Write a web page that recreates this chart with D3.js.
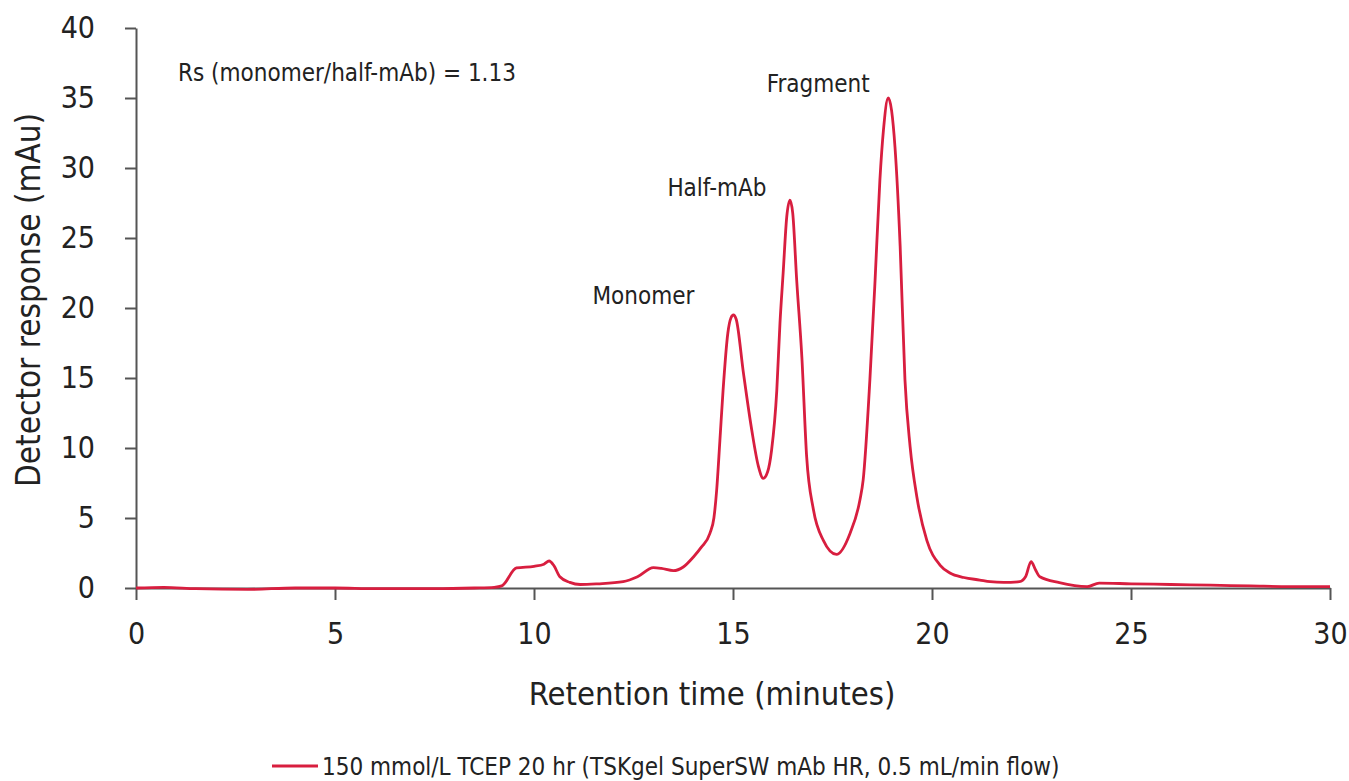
<!DOCTYPE html>
<html lang="en">
<head>
  <meta charset="UTF-8">
  <title>Chromatogram</title>
  <script src="https://d3js.org/d3.v7.min.js"></script>
  <style>
    body { margin: 0; background: white; }
    text { font-family: "Liberation Sans Narrow", "DejaVu Sans Condensed", "Roboto Condensed", sans-serif; fill: #222; }
  </style>
</head>
<body>
<svg id="chart" width="1349" height="781"></svg>

<script>
  // Retention time (minutes) and detector response (mAu)
  const times = [0, 0.7, 1.5, 2.8, 4, 5, 6, 7.5, 8.5, 9.0, 9.19, 9.56, 10.0, 10.25, 10.38, 10.5, 10.65, 10.9,
    11.16, 11.6, 12.24, 12.6, 13.0, 13.2, 13.5, 13.75, 14.0, 14.2, 14.42, 14.52, 14.59, 14.67, 14.75, 14.87,
    14.95, 15.01, 15.08, 15.26, 15.47, 15.64, 15.76, 15.87, 15.97, 16.1, 16.18, 16.26, 16.35, 16.43, 16.5,
    16.6, 16.73, 16.85, 17.02, 17.27, 17.6, 17.94, 18.19, 18.27, 18.44, 18.57, 18.69, 18.78, 18.9, 19.07,
    19.2, 19.32, 19.45, 19.62, 19.87, 20.2, 20.45, 20.8, 21.2, 21.46, 21.8, 22.2, 22.35, 22.49, 22.6, 22.71,
    23.2, 23.9, 24.2, 25, 26, 27, 28, 29, 30];
  const response = [0, 0.05, -0.05, -0.1, 0, 0, -0.05, -0.05, 0, 0.05, 0.15, 1.43, 1.55, 1.7, 1.93, 1.6, 0.8, 0.4,
    0.25, 0.3, 0.45, 0.8, 1.45, 1.4, 1.24, 1.5, 2.2, 2.9, 3.9, 5.0, 7.0, 10.5, 14.1, 18.2,
    19.3, 19.5, 19.2, 15.4, 11.3, 8.67, 7.83, 8.3, 9.86, 14.1, 18.9, 22.5, 26.5, 27.7, 26.8,
    22, 16.5, 9.4, 5.6, 3.4, 2.4, 3.9, 6.3, 7.7, 14.9, 22, 29.1, 32.7, 35.0, 31.5,
    24.4, 14.9, 10.1, 6.5, 3.4, 1.64, 1.07, 0.75, 0.57, 0.45, 0.4, 0.45, 0.8, 1.88, 1.3, 0.8,
    0.38, 0.1, 0.35, 0.3, 0.25, 0.2, 0.15, 0.1, 0.1];

  const xTicks = [0, 5, 10, 15, 20, 25, 30];
  const yTicks = [0, 5, 10, 15, 20, 25, 30, 35, 40];

  const peakNames = ["Monomer", "Half-mAb", "Fragment"];
  const peakTimes = [15.01, 16.43, 18.9];
  const peakHeights = [19.5, 27.7, 35.0];

  const note = "Rs (monomer/half-mAb) = 1.13";
  const legendLabel = "150 mmol/L TCEP 20 hr (TSKgel SuperSW mAb HR, 0.5 mL/min flow)";

  const red = "#d81e3f";
  const axisColor = "#555";

  const svg = d3.select("#chart");
  const margin = {left: 136, right: 19, top: 28, bottom: 193};
  const width = 1349 - margin.left - margin.right;
  const height = 781 - margin.top - margin.bottom;

  const x = d3.scaleLinear().domain([0, 30]).range([0, width]);
  const y = d3.scaleLinear().domain([0, 40]).range([height, 0]);

  const g = svg.append("g").attr("transform", `translate(${margin.left},${margin.top})`);

  // axes
  const xAxis = g.append("g")
          .attr("transform", `translate(0,${height})`)
          .call(d3.axisBottom(x).tickValues(xTicks).tickSize(12).tickPadding(23).tickSizeOuter(0));
  const yAxis = g.append("g")
          .call(d3.axisLeft(y).tickValues(yTicks).tickSize(11).tickPadding(30).tickSizeOuter(0));

  [xAxis, yAxis].forEach(a => {
    a.select(".domain").attr("stroke", axisColor).attr("stroke-width", 2);
    a.selectAll(".tick line").attr("stroke", axisColor).attr("stroke-width", 2);
    a.selectAll(".tick text").style("font-size", "30px").attr("fill", "#222")
            .style("font-family", "\"Liberation Sans Narrow\", \"DejaVu Sans Condensed\", sans-serif");
  });
  xAxis.selectAll(".tick text").attr("dy", "0.71em");

  // axis titles
  svg.append("text")
          .attr("x", 712)
          .attr("y", 705)
          .attr("text-anchor", "middle")
          .style("font-size", "32.5px")
          .text("Retention time (minutes)");

  svg.append("text")
          .attr("transform", "translate(40,300) rotate(-90)")
          .attr("text-anchor", "middle")
          .style("font-size", "33px")
          .text("Detector response (mAu)");

  // the trace
  const pts = times.map((t, i) => [t, response[i]]);
  const line = d3.line()
          .x(d => x(d[0]))
          .y(d => y(d[1]))
          .curve(d3.curveMonotoneX);

  g.append("path")
          .datum(pts)
          .attr("fill", "none")
          .attr("stroke", red)
          .attr("stroke-width", 2.8)
          .attr("stroke-linejoin", "round")
          .attr("d", line);

  // peak labels (sitting up and to the left of each peak)
  const labelDx = [-90, -73, -70];
  const labelDy = [11, 4, 6];
  g.selectAll(".peak-label")
          .data(peakNames)
          .enter().append("text")
          .attr("class", "peak-label")
          .attr("x", (d, i) => x(peakTimes[i]) + labelDx[i])
          .attr("y", (d, i) => y(peakHeights[i]) - labelDy[i])
          .attr("text-anchor", "middle")
          .style("font-size", "24px")
          .text(d => d);

  svg.append("text")
          .attr("x", 178)
          .attr("y", 81)
          .style("font-size", "24px")
          .text(note);

  // legend
  const lg = svg.append("g").attr("transform", "translate(272,766)");
  lg.append("line")
          .attr("x1", 0).attr("x2", 46)
          .attr("stroke", red).attr("stroke-width", 3);
  lg.append("text")
          .attr("x", 50)
          .attr("y", 9)
          .style("font-size", "24px")
          .text(legendLabel);
</script>
</body>
</html>
